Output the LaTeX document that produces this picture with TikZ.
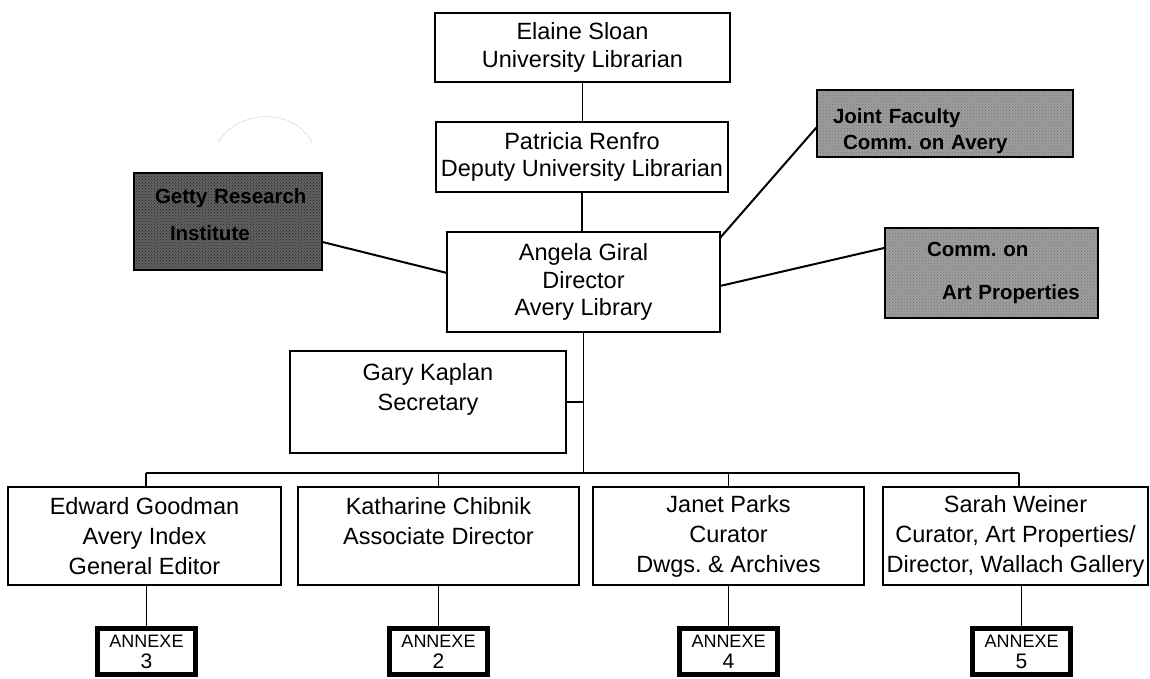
\documentclass[tikz,border=0pt]{standalone}
\usepackage{fontspec}
\setmainfont{Liberation Sans}
\usetikzlibrary{calc,patterns}
\frenchspacing
\begin{document}
\begin{tikzpicture}[x=1pt,y=-1pt,
  box/.style={draw, line width=1.6pt, inner sep=0pt, outer sep=0pt, anchor=north west,
    align=center, font=\fontsize{23.5}{27.5}\selectfont},
  lowbox/.style={box, font=\fontsize{23.5}{30}\selectfont},
  shadebox/.style={draw, line width=2.6pt, inner ysep=0pt, outer sep=0pt, anchor=north west,
    align=left, font=\bfseries\fontsize{20.5}{26}\selectfont,
    preaction={fill=black!38}, pattern=crosshatch dots, pattern color=black!55},
  darkbox/.style={shadebox, preaction={fill=black!62}, pattern color=black!85},
  annexe/.style={draw, line width=5pt, inner sep=0pt, outer sep=0pt, anchor=north west,
    align=center, minimum width=98pt, minimum height=46pt,
    font=\fontsize{18}{21}\selectfont},
  annum/.style={font=\fontsize{21}{21}\selectfont},
  conn/.style={line width=1.4pt},
  side/.style={line width=2pt}
]
\useasboundingbox (0,0) rectangle (1150,679);

% top chain
\node[box, minimum width=295pt, minimum height=69pt] (elaine) at (435,13) {Elaine Sloan\\University Librarian};
\node[box, minimum width=292pt, minimum height=70pt] (patricia) at (436,122) {Patricia Renfro\\Deputy University Librarian};
\node[box, minimum width=273pt, minimum height=100pt] (angela) at (447,232) {Angela Giral\\Director\\Avery Library};
\node[lowbox, minimum width=276pt, minimum height=102pt] (gary) at (290,351) {Gary Kaplan\\Secretary\\\mbox{}};

% side committees
\node[darkbox, minimum width=188pt, minimum height=97pt, inner xsep=21pt, text width=146pt,
  font=\bfseries\fontsize{20.5}{37}\selectfont] (getty) at (134,173)
  {\mbox{Getty Research}\\\mbox{\hspace*{15pt}Institute\rule[-14pt]{0pt}{1pt}}};
\node[shadebox, minimum width=256pt, minimum height=67pt, inner xsep=16pt, text width=224pt] (joint) at (817,90)
  {\mbox{\rule{0pt}{30pt}Joint Faculty}\\\mbox{\hspace*{10pt}Comm. on Avery}};
\node[shadebox, minimum width=213pt, minimum height=90pt, inner xsep=42pt, text width=129pt,
  font=\bfseries\fontsize{20.5}{43}\selectfont] (comm) at (885,228)
  {\mbox{Comm. on}\\\mbox{\hspace*{15pt}Art Properties}};

% bottom row
\node[lowbox, minimum width=273pt, minimum height=98pt] (edward) at (8,487) {Edward Goodman\\Avery Index\\General Editor};
\node[lowbox, minimum width=281pt, minimum height=98pt] (katharine) at (298,487) {Katharine Chibnik\\Associate Director\\\mbox{}};
\node[lowbox, minimum width=271pt, minimum height=98pt] (janet) at (593,487) {Janet Parks\\Curator\\Dwgs. \& Archives};
\node[lowbox, minimum width=265pt, minimum height=98pt] (sarah) at (883,487) {Sarah Weiner\\Curator, Art Properties/\\Director, Wallach Gallery};

% annexes
\node[annexe] (annexe3) at (97.5,628.5) {ANNEXE\\{\fontsize{21}{21}\selectfont 3}};
\node[annexe] (annexe2) at (389.5,628.5) {ANNEXE\\{\fontsize{21}{21}\selectfont 2}};
\node[annexe] (annexe4) at (679.5,628.5) {ANNEXE\\{\fontsize{21}{21}\selectfont 4}};
\node[annexe] (annexe5) at (972.5,628.5) {ANNEXE\\{\fontsize{21}{21}\selectfont 5}};

% connectors
\draw[conn] (elaine.south) -- (elaine.south |- patricia.north);
\draw[conn] (patricia.south) -- (patricia.south |- angela.north);
\coordinate (busL) at (146,473);
\coordinate (busR) at (1019,473);
\draw[conn] (angela.south) -- (angela.south |- busL);
\draw[conn] (gary.east) -- (gary.east -| angela.south);
\draw[conn] (busL) -- (busR);
\draw[conn] (busL) -- (busL |- edward.north);
\draw[conn] (katharine.north) -- (katharine.north |- busL);
\draw[conn] (janet.north) -- (janet.north |- busL);
\draw[conn] (busR) -- (busR |- sarah.north);
\draw[conn] (annexe3.north) -- (annexe3.north |- edward.south);
\draw[conn] (annexe2.north) -- (annexe2.north |- katharine.south);
\draw[conn] (annexe4.north) -- (annexe4.north |- janet.south);
\draw[conn] (annexe5.north) -- (annexe5.north |- sarah.south);

\draw[side] ($(getty.north east)!0.71!(getty.south east)$) -- ($(angela.north west)!0.41!(angela.south west)$);
\draw[side] ($(angela.north east)!0.06!(angela.south east)$) -- ($(joint.north west)!0.55!(joint.south west)$);
\draw[side] ($(angela.north east)!0.54!(angela.south east)$) -- ($(comm.north west)!0.22!(comm.south west)$);

% faint arc
\draw[gray!45, densely dotted, line width=0.8pt] (218,142) .. controls (240,108) and (295,108) .. (312,143);
\end{tikzpicture}
\end{document}
